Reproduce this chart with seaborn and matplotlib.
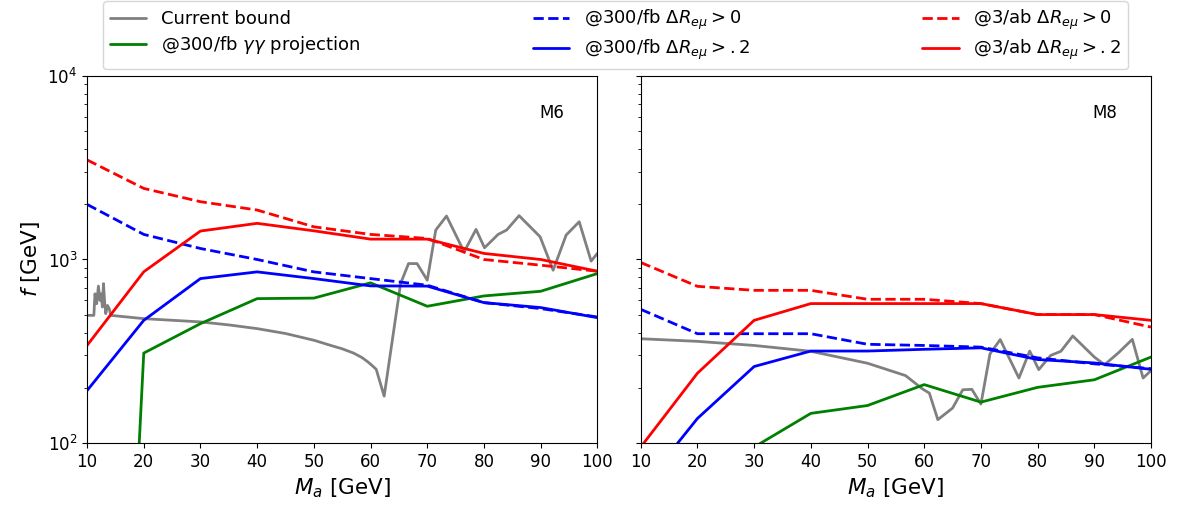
import numpy as np
import pandas as pd
import seaborn as sns
import matplotlib.pyplot as plt

# masses where the projections are evaluated
ma = [10, 20, 30, 40, 50, 60, 70, 80, 90, 100]

# ---- M6 ----
m6_bound_x = [10, 11.2, 11.4, 11.7, 12.0, 12.3, 12.5, 12.7, 12.9, 13.1, 13.3, 13.6, 13.9, 14.2,
              20, 30, 35, 40, 45, 50, 53, 55, 57, 58.5, 59.5, 60.3, 61, 62.4, 65.3, 66.7, 68.2,
              70, 71.5, 73.4, 76.5, 78.6, 80.1, 82.5, 84, 86.2, 89.9, 92.2, 94.5, 96.8, 98.9, 100]
m6_bound_f = [496, 496, 650, 574, 716, 598, 650, 551, 738, 586, 507, 562, 540, 496,
              476, 457, 440, 420, 395, 363, 340, 326, 309, 292, 277, 264, 252, 180, 740, 950, 950,
              771, 1447, 1725, 1100, 1459, 1158, 1370, 1447, 1733, 1330, 874, 1359, 1606, 980, 1079]
m6_gg_x = [19, 20, 30, 40, 50, 60, 70, 80, 90, 100]
m6_gg_f = [75, 309, 447, 612, 616, 746, 556, 633, 671, 838]
m6_300_0 = [1997, 1370, 1148, 1000, 856, 787, 724, 582, 540, 486]
m6_300_2 = [193, 466, 787, 856, 787, 718, 716, 582, 547, 482]
m6_3ab_0 = [3490, 2440, 2065, 1860, 1507, 1370, 1302, 1000, 931, 863]
m6_3ab_2 = [340, 857, 1429, 1574, 1433, 1291, 1291, 1079, 1000, 863]

# ---- M8 ----
m8_bound_x = [10, 20, 30, 40, 50, 56.7, 59.7, 60.9, 62.4, 65.0, 66.8, 68.4, 70, 71.6, 73.4,
              76.7, 78.6, 80.2, 82.3, 84.1, 86.2, 90, 91.8, 94.2, 96.7, 98.6, 100]
m8_bound_f = [370, 358, 340, 316, 272, 233, 197, 187, 134, 155, 195, 196, 163, 306, 366,
              226, 317, 251, 300, 316, 383, 294, 267, 309, 367, 226, 248]
m8_gg_x = [30, 40, 50, 60, 70, 80, 90, 100]
m8_gg_f = [95, 145, 160, 208, 167, 201, 221, 294]
m8_300_0 = [535, 394, 394, 394, 345, 340, 333, 291, 270, 254]
m8_300_2 = [56, 136, 261, 317, 317, 324, 330, 285, 273, 252]
m8_3ab_0 = [963, 714, 679, 679, 607, 607, 575, 501, 501, 428]
m8_3ab_2 = [95, 240, 466, 575, 575, 575, 575, 501, 501, 466]

labels = ["Current bound",
          r"@300/fb $\gamma\gamma$ projection",
          r"@300/fb $\Delta R_{e\mu} > 0$",
          r"@300/fb $\Delta R_{e\mu} > .2$",
          r"@3/ab $\Delta R_{e\mu} > 0$",
          r"@3/ab $\Delta R_{e\mu} > .2$"]

sns.set_style("ticks", {"axes.edgecolor": "black", "xtick.color": "black",
                        "ytick.color": "black", "text.color": "black",
                        "axes.labelcolor": "black"})
plt.rcParams["font.family"] = ["DejaVu Sans"]

fig, axes = plt.subplots(1, 2, figsize=(11.78, 5.09), dpi=100, sharey=True)
fig.subplots_adjust(left=0.0739, right=0.9771, bottom=0.1297, top=0.8507, wspace=0.085)

panels = [
    ("M6", axes[0], m6_bound_x, m6_bound_f, m6_gg_x, m6_gg_f, m6_300_0, m6_300_2, m6_3ab_0, m6_3ab_2),
    ("M8", axes[1], m8_bound_x, m8_bound_f, m8_gg_x, m8_gg_f, m8_300_0, m8_300_2, m8_3ab_0, m8_3ab_2),
]

lw = 2
for name, ax, bx, bf, gx, gf, b0, b2, r0, r2 in panels:
    series = [
        (bx, bf, "grey", "-"),
        (gx, gf, "green", "-"),
        (ma, b0, "blue", "--"),
        (ma, b2, "blue", "-"),
        (ma, r0, "red", "--"),
        (ma, r2, "red", "-"),
    ]
    for (x, y, c, ls), lab in zip(series, labels):
        sns.lineplot(x=x, y=y, ax=ax, color=c, linestyle=ls, linewidth=lw,
                     label=lab, sort=False, estimator=None)
    ax.set_yscale("log")
    ax.set_xlim(10, 100)
    ax.set_ylim(100, 10000)
    ax.set_xticks(range(10, 101, 10))
    ax.tick_params(labelsize=12)
    ax.set_xlabel(r"$M_a$ [GeV]", fontsize=15.5)
    ax.text(0.91, 0.90, name, transform=ax.transAxes, fontsize=12, ha="center", va="center")
    ax.get_legend().remove()

axes[0].set_ylabel(r"$f$ [GeV]", fontsize=15.5)

handles, labs = axes[0].get_legend_handles_labels()
fig.legend(handles, labs, ncol=3, loc="upper left", mode="expand",
           bbox_to_anchor=(0.0874, 0.86, 0.8702, 0.138), borderaxespad=0.0,
           fontsize=13, labelspacing=0.3, frameon=True, edgecolor="0.8",
           handlelength=2)

fig.savefig("out.png", dpi=100)
